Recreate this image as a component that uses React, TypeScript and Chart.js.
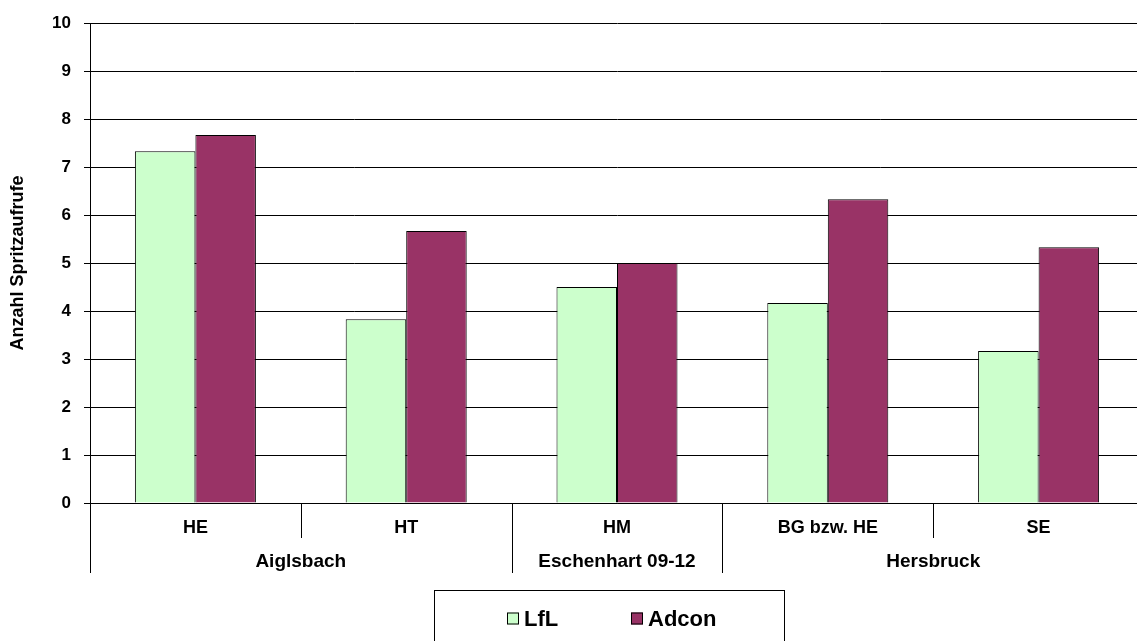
import React, { useEffect, useRef } from "react";
import { Chart, registerables } from "chart.js";

Chart.register(...registerables);

const categories = ["HE", "HT", "HM", "BG bzw. HE", "SE"];
const groupLabels = ["Aiglsbach", "Eschenhart 09-12", "Hersbruck"];
const groupSizes = [2, 1, 2];
const seriesNames = ["LfL", "Adcon"];
const lflValues = [7.33, 3.83, 4.5, 4.17, 3.17];
const adconValues = [7.67, 5.67, 5.0, 6.33, 5.33];
const seriesColors = ["#CCFFCC", "#993366"];
const yMin = 0;
const yMax = 10;
const yStep = 1;
const yAxisTitle = "Anzahl Spritzaufrufe";

const FONT = "'Liberation Sans', Arial, Helvetica, sans-serif";

const groupAxisPlugin = {
  id: "groupAxis",
  afterDraw(chart: any) {
    const ctx = chart.ctx;
    const xs = chart.scales.x;
    const ca = chart.chartArea;
    const shortEnd = ca.bottom + 35;
    const longEnd = ca.bottom + 70;
    const al = (v: number) => Math.round(v) + 0.5;
    ctx.save();
    ctx.strokeStyle = "#000";
    ctx.lineWidth = 1;
    const line = (x: number, y1: number, y2: number) => {
      ctx.beginPath();
      ctx.moveTo(al(x), y1);
      ctx.lineTo(al(x), y2);
      ctx.stroke();
    };
    // left axis extension
    line(ca.left, ca.bottom, longEnd);
    // group boundaries
    const groupEnds = new Set<number>();
    let acc = 0;
    groupSizes.forEach((s) => {
      acc += s;
      groupEnds.add(acc);
    });
    for (let i = 0; i < categories.length; i++) {
      const bx =
        i < categories.length - 1
          ? (xs.getPixelForValue(i) + xs.getPixelForValue(i + 1)) / 2
          : ca.right;
      line(bx, ca.bottom, groupEnds.has(i + 1) ? longEnd : shortEnd);
    }
    // group labels
    ctx.fillStyle = "#000";
    ctx.font = `bold 19px ${FONT}`;
    ctx.textAlign = "center";
    ctx.textBaseline = "middle";
    let start = 0;
    groupLabels.forEach((g, gi) => {
      const first = start;
      const last = start + groupSizes[gi] - 1;
      const cx = (xs.getPixelForValue(first) + xs.getPixelForValue(last)) / 2;
      ctx.fillText(g, cx, ca.bottom + 59);
      start += groupSizes[gi];
    });

    // legend box
    const bx0 = 434.5;
    const by0 = 590.5;
    const bw = 350;
    ctx.strokeStyle = "#000";
    ctx.strokeRect(bx0, by0, bw, 80);
    ctx.font = `bold 22px ${FONT}`;
    ctx.textAlign = "left";
    const itemX = [507, 631];
    const ly = 618.5;
    seriesNames.forEach((name, i) => {
      ctx.fillStyle = seriesColors[i];
      ctx.fillRect(itemX[i], ly - 6, 12, 12);
      ctx.strokeStyle = "#000";
      ctx.strokeRect(itemX[i] + 0.5, ly - 5.5, 11, 11);
      ctx.fillStyle = "#000";
      ctx.fillText(name, itemX[i] + 17, ly + 1);
    });
    ctx.restore();
  },
};

export default function App() {
  const ref = useRef<HTMLCanvasElement>(null);

  useEffect(() => {
    document.documentElement.style.overflow = "hidden";
    document.body.style.overflow = "hidden";
    const canvas = ref.current!;
    const chart = new Chart(canvas, {
      type: "bar",
      data: {
        labels: categories,
        datasets: [
          {
            label: seriesNames[0],
            data: lflValues,
            backgroundColor: seriesColors[0],
            borderColor: "#000",
            borderWidth: 1,
            barPercentage: 1,
            categoryPercentage: 0.574,
          },
          {
            label: seriesNames[1],
            data: adconValues,
            backgroundColor: seriesColors[1],
            borderColor: "#000",
            borderWidth: 1,
            barPercentage: 1,
            categoryPercentage: 0.574,
          },
        ],
      },
      options: {
        animation: false,
        responsive: false,
        maintainAspectRatio: false,
        layout: { padding: { top: 22, left: 0, right: 0, bottom: 0 } },
        plugins: {
          legend: { display: false },
          tooltip: { enabled: false },
        },
        scales: {
          x: {
            offset: true,
            grid: { display: false },
            border: { display: true, color: "#000", width: 1 },
            ticks: {
              color: "#000",
              padding: 6,
              font: { family: FONT, size: 18, weight: "bold" },
              maxRotation: 0,
              autoSkip: false,
            },
            afterFit: (s: any) => {
              s.height = 138;
            },
          },
          y: {
            min: yMin,
            max: yMax,
            grid: {
              color: "#000",
              lineWidth: 1,
              drawTicks: true,
              tickLength: 6,
              tickColor: "#000",
            },
            border: { display: true, color: "#000", width: 1 },
            ticks: {
              stepSize: yStep,
              color: "#000",
              padding: 13,
              font: { family: FONT, size: 17, weight: "bold" },
            },
            title: {
              display: true,
              text: yAxisTitle,
              color: "#000",
              padding: { top: 7, bottom: 0 },
              font: { family: FONT, size: 18, weight: "bold" },
            },
            afterFit: (s: any) => {
              s.width = 90;
            },
          },
        },
      },
      plugins: [groupAxisPlugin],
    });
    return () => chart.destroy();
  }, []);

  return (
    <div style={{ position: "fixed", left: 0, top: 0, width: 1144, height: 641, background: "#fff" }}>
      <canvas ref={ref} width={1144} height={641} style={{ display: "block", width: 1144, height: 641 }} />
    </div>
  );
}
